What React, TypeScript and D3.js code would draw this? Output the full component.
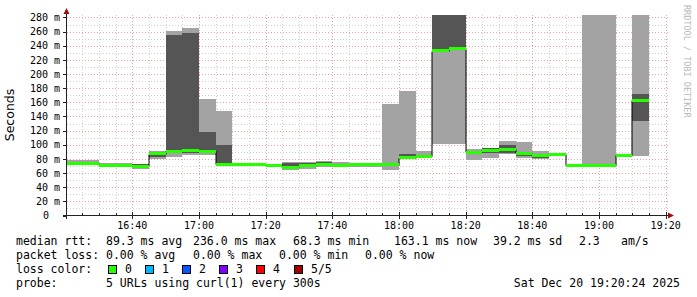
import React from "react";
import * as d3 from "d3";

// 5-minute slots (start times); first slot is clipped by graph start 16:20:24
const slotTimes = [
  "16:20","16:25","16:30","16:35","16:40","16:45","16:50","16:55",
  "17:00","17:05","17:10","17:15","17:20","17:25","17:30","17:35",
  "17:40","17:45","17:50","17:55","18:00","18:05","18:10","18:15",
  "18:20","18:25","18:30","18:35","18:40","18:45","18:50","18:55",
  "19:00","19:05","19:10",
];
// sorted ping values (ms): p1 lowest .. p5 highest
const ping1 = [71,71,69,68,65.5,79.5,83,86,86,71,70.5,71.5,69,64.5,66,69,68.5,69,68,65,80,81,101,101,78.5,82,87.5,82,80,83.5,70,70.5,70.5,84,84];
const ping2 = [73,73,70,69,68,83,88,89,88,72,71,72,69.5,67,68,70.5,70,69.5,70,70,80.5,82.5,231,234,89,88,89,84,81,84,70.5,71,71,84.5,134];
const median = [74,74,71,70,69.5,87,91,92,91,72.5,71.5,72.5,71,68.3,70,72,71,72,72,71.5,82,84,233,236,89.5,92,93.5,88,85,86.5,71.2,71.2,71.2,85.5,163.1];
const ping4 = [76,76,73,72,72.5,89.5,255,258,118,100,72,73,71.5,74.5,74,75.5,73,72.5,72.3,74.5,87,86,300,300,90.5,95,99.5,90,86,87,71.8,72,72,86.5,172];
const ping5 = [78,78,74,74,73,90.5,261,265,165,148,72.5,73.5,72,75,76,77.5,75.5,73,72.5,158,176.5,91,300,300,94,95.5,105.5,104.5,91,87.5,72,300,300,87,300];

const yTickValues = [0,20,40,60,80,100,120,140,160,180,200,220,240,260,280];
const xTickLabels = ["16:40","17:00","17:20","17:40","18:00","18:20","18:40","19:00","19:20"];

const rttStats = [
  { text: "median rtt:", x: 16 },
  { text: "89.3 ms avg", x: 106 },
  { text: "236.0 ms max", x: 193 },
  { text: "68.3 ms min", x: 293 },
  { text: "163.1 ms now", x: 394 },
  { text: "39.2 ms sd", x: 493 },
  { text: "2.3", x: 579 },
  { text: "am/s", x: 621 },
];
const lossStats = [
  { text: "packet loss:", x: 16 },
  { text: "0.00 % avg", x: 106 },
  { text: "0.00 % max", x: 193 },
  { text: "0.00 % min", x: 279 },
  { text: "0.00 % now", x: 365 },
];
const lossLegend = [
  { label: "0", color: "#26ff00", x: 108 },
  { label: "1", color: "#00b8ff", x: 145 },
  { label: "2", color: "#0059ff", x: 182 },
  { label: "3", color: "#7e00ff", x: 219 },
  { label: "4", color: "#ff0000", x: 256 },
  { label: "5/5", color: "#a10000", x: 294 },
];

const W = 697, H = 297;
const PL = 67, PR = 667, PT = 15, PB = 215.5;

const parseT = (s: string) => {
  const [h, m] = s.split(":").map(Number);
  return new Date(2025, 11, 20, h, m, 0);
};
const tStart = new Date(2025, 11, 20, 16, 20, 24);
const tEnd = new Date(2025, 11, 20, 19, 20, 24);

export default function App() {
  const x = d3.scaleTime().domain([tStart, tEnd]).range([PL, PR]);
  const y = d3.scaleLinear().domain([0, 283.5]).range([PB, PT]);
  const mono = "'DejaVu Sans Mono', monospace";

  const slots = slotTimes.map((s, i) => {
    const t = parseT(s);
    const x0 = Math.max(PL, Math.round(x(t)));
    const x1 = Math.round(x(d3.timeMinute.offset(t, 5)));
    return { x0, x1, i };
  });

  const minorX = d3.timeMinute.every(5)!.range(tStart, tEnd).filter((d) => d.getMinutes() % 20 !== 0);
  const majorX = d3.timeMinute.every(20)!.range(tStart, tEnd);
  const minorY = d3.range(10, 281, 20);
  const cr = (v: number) => Math.round(v) + 0.5;

  let medPath = "";
  slots.forEach((s, k) => {
    const ym = Math.round(y(median[s.i])) + 0.5;
    medPath += (k === 0 ? "M" : "L") + s.x0 + "," + ym + "L" + s.x1 + "," + ym;
  });

  return (
    <svg width={W} height={H} style={{ position: "absolute", left: 0, top: 0, display: "block", background: "#fff" }}>
      <defs>
        <clipPath id="plotclip">
          <rect x={PL} y={PT} width={PR - PL} height={PB - PT} />
        </clipPath>
      </defs>
      <rect x={0} y={0} width={W} height={H} fill="#fff" />
      {/* grid */}
      <g strokeWidth={1} strokeDasharray="1,2" fill="none">
        {minorY.map((v) => (
          <line key={"my" + v} x1={PL} x2={669} y1={cr(y(v))} y2={cr(y(v))} stroke="#d0d0d0" />
        ))}
        {minorX.map((d, k) => (
          <line key={"mx" + k} x1={cr(x(d))} x2={cr(x(d))} y1={PT} y2={PB} stroke="#d0d0d0" />
        ))}
        {yTickValues.slice(1).map((v) => (
          <line key={"My" + v} x1={PL} x2={669} y1={cr(y(v))} y2={cr(y(v))} stroke="#f0a0a0" />
        ))}
        {majorX.map((d, k) => (
          <line key={"Mx" + k} x1={cr(x(d))} x2={cr(x(d))} y1={PT} y2={PB} stroke="#f0a0a0" />
        ))}
      </g>
      {/* smoke */}
      <g clipPath="url(#plotclip)">
        {slots.map((s) => (
          <rect key={"l" + s.i} x={s.x0} width={s.x1 - s.x0}
            y={Math.round(y(ping5[s.i]))} height={Math.round(y(ping1[s.i])) - Math.round(y(ping5[s.i]))}
            fill="#a3a3a3" />
        ))}
        {slots.map((s) => (
          <rect key={"d" + s.i} x={s.x0} width={s.x1 - s.x0}
            y={Math.round(y(ping4[s.i]))} height={Math.round(y(ping2[s.i])) - Math.round(y(ping4[s.i]))}
            fill="#555555" />
        ))}
        <path d={medPath} stroke="#000" strokeWidth={1} fill="none" />
        {slots.map((s) => (
          <rect key={"g" + s.i} x={s.x0} width={s.x1 - s.x0}
            y={Math.round(y(median[s.i]) - 1.5)} height={3} fill="#26ff00" />
        ))}
      </g>
      {/* axes */}
      <line x1={63} x2={671} y1={215.5} y2={215.5} stroke="#222" />
      <line x1={66.5} x2={66.5} y1={219} y2={12} stroke="#222" />
      {minorX.map((d, k) => (
        <line key={"tx" + k} x1={cr(x(d))} x2={cr(x(d))} y1={213} y2={215} stroke="#222" />
      ))}
      {majorX.map((d, k) => (
        <line key={"TX" + k} x1={cr(x(d))} x2={cr(x(d))} y1={212} y2={219} stroke="#222" />
      ))}
      {yTickValues.map((v) => (
        <line key={"ty" + v} x1={63} x2={66} y1={cr(y(v))} y2={cr(y(v))} stroke="#222" />
      ))}
      <polygon points="63.5,14 69.5,14 66.5,8" fill="#9b1010" />
      <polygon points="668,212.5 668,218.5 674,215.5" fill="#9b1010" />
      {/* y labels */}
      <g fontFamily={mono} fontSize={10} fill="#000">
        {yTickValues.map((v) => (
          <text key={"yl" + v} x={v === 0 ? 49 : 60} y={y(v) + 3.6} textAnchor="end">
            {v === 0 ? "0" : v + " m"}
          </text>
        ))}
        {xTickLabels.map((s) => (
          <text key={"xl" + s} x={x(parseT(s))} y={229} textAnchor="middle">{s}</text>
        ))}
      </g>
      <text transform="translate(14,115) rotate(-90)" textAnchor="middle"
        fontFamily="'DejaVu Sans', sans-serif" fontSize={12.5} fill="#000">Seconds</text>
      <text transform="translate(684,5) rotate(90)" textAnchor="start"
        fontFamily={mono} fontSize={8.5} fill="#b8b8b8">RRDTOOL / TOBI OETIKER</text>
      {/* legend */}
      <g fontFamily={mono} fontSize={11.5} fill="#000">
        {rttStats.map((s, k) => (
          <text key={"r" + k} x={s.x} y={245}>{s.text}</text>
        ))}
        {lossStats.map((s, k) => (
          <text key={"p" + k} x={s.x} y={259}>{s.text}</text>
        ))}
        <text x={16} y={273}>loss color:</text>
        {lossLegend.map((l) => (
          <g key={"lc" + l.label}>
            <rect x={l.x + 0.5} y={265.5} width={8} height={8} fill={l.color} stroke="#000" strokeWidth={1} />
            <text x={l.x + 17} y={273}>{l.label}</text>
          </g>
        ))}
        <text x={16} y={287}>probe:</text>
        <text x={106} y={287}>5 URLs using curl(1) every 300s</text>
        <text x={680} y={287} textAnchor="end">Sat Dec 20 19:20:24 2025</text>
      </g>
    </svg>
  );
}
